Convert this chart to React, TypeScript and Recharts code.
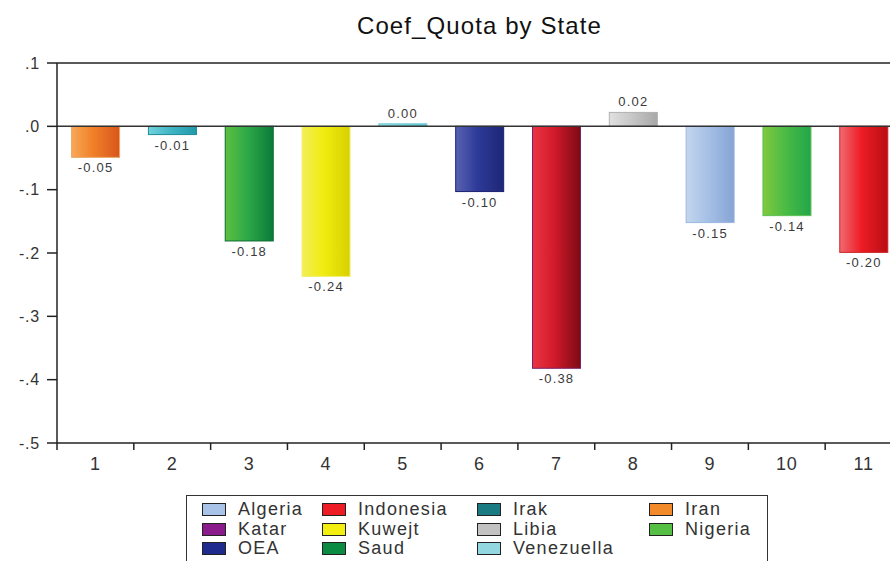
import { BarChart, Bar, XAxis, YAxis, ReferenceLine, LabelList } from "recharts";

const STATES = ["1", "2", "3", "4", "5", "6", "7", "8", "9", "10", "11"];
const COEF_QUOTA = [-0.049, -0.013, -0.181, -0.237, 0.004, -0.103, -0.382, 0.022, -0.152, -0.141, -0.199];
const Y_TICKS = [0.1, 0, -0.1, -0.2, -0.3, -0.4, -0.5];

const LEGEND_NAMES = [
  "Algeria", "Indonesia", "Irak", "Iran",
  "Katar", "Kuwejt", "Libia", "Nigeria",
  "OEA", "Saud", "Venezuella",
];

// styling (kept apart from the data)
const LEGEND_COLORS = [
  "#a9c3e8", "#ee1c24", "#1b7b82", "#f28a2a",
  "#8b1a8c", "#f2ee10", "#c2c2c2", "#55c043",
  "#1f2a8e", "#0b8a42", "#93d8e0",
];
const BAR_STYLE = [
  { light: "#f8a858", mid: "#f08028", dark: "#d8561c", border: "#e8a868" },
  { light: "#72d2dd", mid: "#40b6c6", dark: "#2299aa", border: "#1f8c9a" },
  { light: "#5cc040", mid: "#2eaa48", dark: "#0a7a3a", border: "#0b6a32" },
  { light: "#f2ee58", mid: "#f0ec10", dark: "#d8d000", border: "#f2ee70" },
  { light: "#9be0e6", mid: "#7cd4dc", dark: "#5cc6d0", border: "#6ccad2" },
  { light: "#5862b2", mid: "#2e3a98", dark: "#1d2676", border: "#1a2070" },
  { light: "#ea3444", mid: "#d21a2a", dark: "#7c0a14", border: "#7a1f6a" },
  { light: "#e0e0e0", mid: "#c8c8c8", dark: "#a8a8a8", border: "#b0b0b0" },
  { light: "#c4d6ee", mid: "#a6c0e6", dark: "#86a4d4", border: "#9cb6e0" },
  { light: "#82c83e", mid: "#4cbc44", dark: "#22a64a", border: "#5cc050" },
  { light: "#f06a72", mid: "#ee1c24", dark: "#b80e14", border: "#d02020" },
];

const FONT = "Liberation Sans, Arial, sans-serif";
const CHART_W = 905;
const CHART_H = 561;
const MARGIN = { top: 63, right: 3, left: 0, bottom: 88 };
const YAXIS_W = 57;
const HALF_BAND = (CHART_W - MARGIN.left - MARGIN.right - YAXIS_W) / STATES.length / 2;

const data = STATES.map((s, i) => ({ state: s, value: COEF_QUOTA[i] }));

const fmtY = (v: number) => {
  if (v === 0) return ".0";
  return (v < 0 ? "-" : "") + "." + Math.round(Math.abs(v) * 10);
};

function GradientBar(props: any) {
  const { x, y, width, height, index } = props;
  const st = BAR_STYLE[index];
  const top = Math.min(y, y + height);
  const h = Math.max(Math.abs(height), 2);
  const id = `bg${index}`;
  return (
    <g>
      <defs>
        <linearGradient id={id} x1="0" y1="0" x2="1" y2="0">
          <stop offset="0%" stopColor={st.light} />
          <stop offset="45%" stopColor={st.mid} />
          <stop offset="100%" stopColor={st.dark} />
        </linearGradient>
      </defs>
      <rect x={x} y={top} width={width} height={h} fill={`url(#${id})`} stroke={st.border} strokeWidth={1} />
    </g>
  );
}

function ValueLabel(props: any) {
  const { x, y, width, height, value } = props;
  const neg = value < 0;
  const bottom = Math.max(y, y + height);
  const top = Math.min(y, y + height);
  return (
    <text
      x={x + width / 2}
      y={neg ? bottom + 15 : top - 6}
      textAnchor="middle"
      fontSize={13}
      letterSpacing={1.2}
      fill="#3a3a3a"
      fontFamily={FONT}
    >
      {value.toFixed(2)}
    </text>
  );
}

function XTick(props: any) {
  const { x, y, payload, index } = props;
  const axisY = y - 8;
  return (
    <g>
      <line x1={x - HALF_BAND} x2={x - HALF_BAND} y1={axisY} y2={axisY + 7} stroke="#222" strokeWidth={1.5} />
      {index === STATES.length - 1 && (
        <line x1={x + HALF_BAND} x2={x + HALF_BAND} y1={axisY} y2={axisY + 7} stroke="#222" strokeWidth={1.5} />
      )}
      <text x={x} y={axisY + 27} textAnchor="middle" fontSize={18} letterSpacing={0.8} fill="#333" fontFamily={FONT}>
        {payload.value}
      </text>
    </g>
  );
}

function LegendBox() {
  const cols = [15, 135, 290, 462];
  return (
    <div
      style={{
        position: "absolute",
        left: 186,
        top: 495,
        width: 582,
        height: 90,
        border: "1.5px solid #333",
        background: "#fff",
        boxSizing: "border-box",
      }}
    >
      {LEGEND_NAMES.map((name, i) => {
        const col = i % 4;
        const row = Math.floor(i / 4);
        return (
          <div
            key={name}
            style={{
              position: "absolute",
              left: cols[col],
              top: 4 + row * 19.5,
              display: "flex",
              alignItems: "center",
              fontFamily: FONT,
              fontSize: 18,
              letterSpacing: 1.3,
              color: "#333",
              lineHeight: "19px",
              whiteSpace: "nowrap",
            }}
          >
            <span
              style={{
                display: "inline-block",
                width: 22,
                height: 11,
                background: LEGEND_COLORS[i],
                border: "1px solid #222",
                marginRight: 12,
              }}
            />
            {name}
          </div>
        );
      })}
    </div>
  );
}

export default function App() {
  return (
    <div
      style={{
        position: "fixed",
        left: 0,
        top: 0,
        width: 890,
        height: 561,
        overflow: "hidden",
        background: "#fff",
      }}
    >
      <div
        style={{
          position: "absolute",
          left: 0,
          width: (MARGIN.left + YAXIS_W) * 2 + HALF_BAND * 2 * STATES.length,
          top: 12,
          textAlign: "center",
          fontFamily: FONT,
          fontSize: 24,
          letterSpacing: 1.1,
          color: "#111",
        }}
      >
        Coef_Quota by State
      </div>
      <BarChart width={CHART_W} height={CHART_H} data={data} margin={MARGIN} barCategoryGap="19%">
        <XAxis
          dataKey="state"
          axisLine={{ stroke: "#222", strokeWidth: 1.5 }}
          tickLine={false}
          tick={<XTick />}
          height={30}
          interval={0}
        />
        <YAxis
          width={YAXIS_W}
          domain={[-0.5, 0.1]}
          ticks={Y_TICKS}
          tickFormatter={fmtY}
          axisLine={{ stroke: "#222", strokeWidth: 1.5 }}
          tickLine={{ stroke: "#222", strokeWidth: 1.5 }}
          tickSize={10}
          tickMargin={7}
          tick={{ fill: "#333", fontSize: 16, fontFamily: FONT, letterSpacing: 0.8 }}
          allowDataOverflow
        />
        <ReferenceLine y={0.1} stroke="#222" strokeWidth={1.5} />
        <Bar dataKey="value" shape={<GradientBar />} isAnimationActive={false}>
          <LabelList dataKey="value" content={<ValueLabel />} />
        </Bar>
        <ReferenceLine y={0} stroke="#333" strokeWidth={1.5} />
      </BarChart>
      <LegendBox />
    </div>
  );
}
